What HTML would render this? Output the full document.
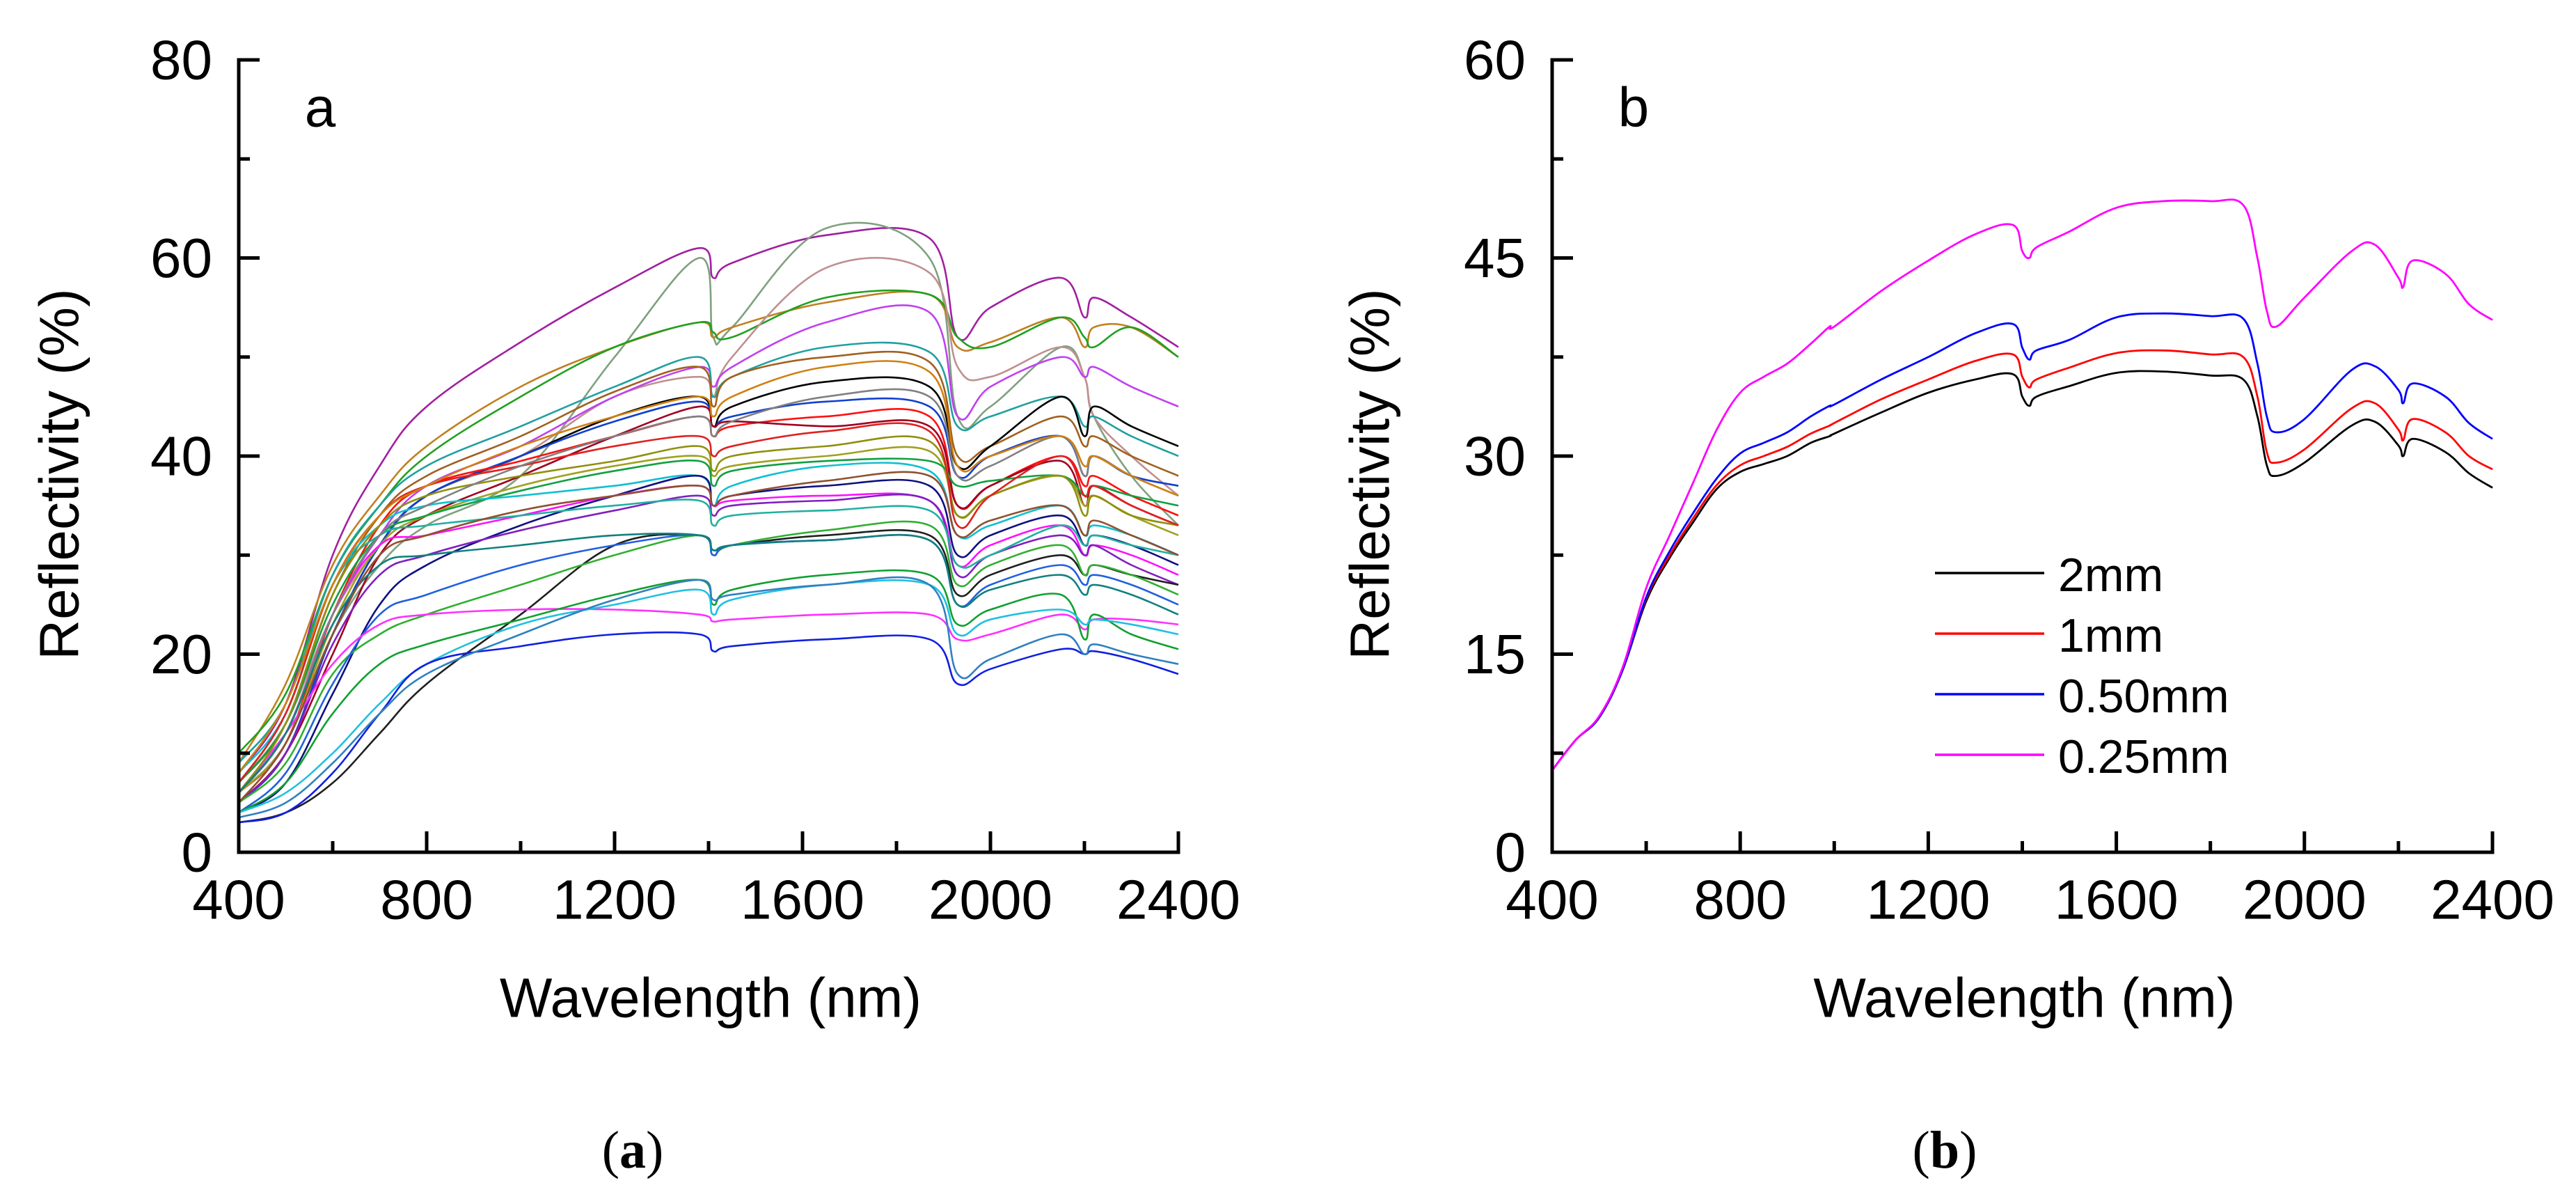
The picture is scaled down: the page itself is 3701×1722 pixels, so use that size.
<!DOCTYPE html>
<html><head><meta charset="utf-8"><style>
html,body{margin:0;padding:0;background:#fff;}
svg{display:block;font-family:"Liberation Sans",Arial,sans-serif;}
</style></head><body>
<svg id="fig" width="3701" height="1722" viewBox="0 0 3701 1722">
<rect width="3701" height="1722" fill="#fff"/>
<g id="pa"></g>
<g id="pb"></g>
</svg>
<script>
const NS="http://www.w3.org/2000/svg";
// ---- panel a data ----
const wlA=[400,500,600,700,800,1000,1200,1380,1410,1450,1650,1870,1930,2000,2150,2200,2220,2300,2400];
const seriesA=[
[8,15,30,39,45,51.5,57,61,58,59.5,62.3,62,52,55,58,54,56,54,51],
[6,11,22,29,33,38,50,60,52,53,63,60,44,45,51,48,44,38,33],
[9,17,29,36,41,47,51,53.5,52,53,55.5,56.3,51,51.5,54,51,53,53,50],
[10,16,28,35,40,46,51,53.5,52.5,52,56,56.3,52,51,54,52,51,53,50],
[7,13,24,31,36,40,46,48,46,50,59,58.5,49,48,51,48,44,40,36],
[6,12,24,32,37,41,46,49,47,49,53.5,54.5,44,47,50,48,49,47,45],
[9,15,28,35,39,43,47,50,46,48,51,50.5,43,44,46,43,44,42,40],
[7,13,26,34,38,42,46.5,49,45,48,50,49.5,40,41,44,41,42,40,38],
[5,10,22,31,36,40,44,46,43,45,47.5,47,39,41,46,42,45,43,41],
[5,10,22,31,36,40,43.5,45.5,43,44,45.5,45,38,40,42,38,40,38,37],
[6,11,24,33,37,39.5,42,44,42,43,44,44,35,37,40,37,38,36,34],
[5,10,20,30,34,38,42,45,43,43.5,43,43,35,37,39.5,35,37,35,33],
[6,11,23,31,34,37,39,40,38,39,40,40.5,34,36,38,35,36,34,32],
[7,13,25,32,34,36.5,38.5,39.5,37,38.5,39.5,39.5,37,37.5,38,36,37,36,35],
[8,14,27,33,35,36,37,38,35,37,39,38.5,32,33,35,32,33,32,30],
[4,7,16,25,29,33,36,38,35,36,37,37,30,32,34,31,32,31,29],
[6,12,24,31,32,34,36,37,35,35.5,36,35.5,29,31,33,30,31,30,28],
[5,10,21,28,30,32.5,34.5,36,34,35,35.5,35.5,28,30,32,30,31,29,27],
[7,14,27,32,33,34,35,35.5,33,34,34.5,34.5,29,30,33,31,32,31,30],
[3,4,7,12,17,24,31,32,30.5,31,32,32,26,28,30,28,29,28,27],
[5,9,18,22,24,27,30,32,30,31,32.5,33,27,29,31,28,29,28,26],
[4,8,17,24,26,29,31,32,30,31,31.5,31.5,25,27,29,27,28,27,25],
[6,12,19,23,24,24.5,24.5,24,23.3,23.5,24,24,21.5,22,24,22.5,23.5,23.5,23],
[4,7,14,19,21,23.5,26,27.5,25,26.5,28,28,23,24.5,26,21.5,24,22,20.5],
[4,6,10,15,19,23,25,26.5,24,25.5,27,27,22,23.5,24.5,23,23.5,23,22],
[3,4,8,14,19,20.8,22,22,20.3,20.8,21.5,21.5,17,18.5,20.5,20,20.3,19.5,18],
[3.5,5,9,14,18,22,25.5,27.5,25.5,26,27,27,18,19.5,22,20,21,20,19],
[6,13,26,33,36,38,39.5,41,38.5,40,41,41.5,34,36,38,34,36,34,33],
[7,14,27,34,37,39,41,42,40,41,42.5,42.5,33,36,40,36,37,35,33],
[6,12,24,32,35,39,42,44,42,43.5,46,46,38,39,42,38,40,38,36],
[8,15,27,34,37,41,44,46,44,46,49,48.5,39,40,42,39,40,38,36],
[6,12,23,29,30,31,32,32,30.5,31,31.5,31.5,25,26.5,28,26,27,26,24],
[5,11,22,30,32,34.5,36,37,35,36,37.5,38,32,33.5,35,32,33.5,32,30]
];
const colorsA=["#a020a0","#7fa07f","#c08020","#20a020","#c09090","#c040f0","#20a0a0","#a06020","#000000","#1040d0","#ff1010","#a00020","#a0a020","#10a040","#10c0d0","#101080","#ff10ff","#8020c0","#20b0a0","#202020","#30b030","#2060e0","#ff30ff","#10a030","#20c0e0","#1020e0","#3080c0","#909010","#e02020","#808080","#d08010","#108080","#905030"];
const xTicksA=[400,800,1200,1600,2000,2400];
const yTicksA=[0,20,40,60,80];
// ---- panel b data ----
const wlB=[400,450,500,550,600,650,700,750,800,850,900,950,990,1000,1100,1200,1300,1380,1400,1415,1430,1500,1600,1700,1800,1870,1900,1920,1940,2000,2100,2150,2200,2210,2230,2300,2350,2400];
const s2mm=[6.2,8.5,10.2,13.8,19,22.3,25,27.5,28.8,29.4,30,31,31.5,31.7,33.3,34.8,35.8,36.2,34.5,33.8,34.5,35.3,36.3,36.4,36.1,35.8,33,29.3,28.5,29.5,32.3,32.6,30.8,30,31.3,30.3,28.7,27.6];
const s1mm=[6.2,8.5,10.2,13.8,19.2,22.5,25.3,27.8,29.3,30,30.7,31.7,32.3,32.5,34.3,35.8,37.2,37.7,36,35.2,35.8,36.7,37.8,38,37.7,37.5,34.5,30.3,29.5,30.5,33.6,34,32,31.2,32.8,31.8,30,29];
const s050=[6.2,8.5,10.2,13.8,19.3,22.8,25.7,28.3,30.2,31,31.8,33,33.8,33.9,35.8,37.5,39.3,40,38.2,37.3,38,38.8,40.5,40.8,40.6,40.4,37,33,31.8,32.8,36.5,36.8,35,34,35.5,34.5,32.5,31.3];
const s025=[6.2,8.5,10.3,14,20,24,28,32,34.8,36,37,38.5,39.8,39.8,42.5,44.8,46.8,47.5,45.5,45,45.8,47,48.8,49.3,49.3,49,45,41,39.8,42,45.5,46,43.5,42.8,44.8,43.8,41.5,40.3];
const namesB=["2mm","1mm","0.50mm","0.25mm"];
const colorsB=["#000000","#ff0000","#0000ff","#ff00ff"];
const xTicksB=[400,800,1200,1600,2000,2400];
const yTicksB=[0,15,30,45,60];

function mk(tag,attrs,parent,text){const e=document.createElementNS(NS,tag);for(const k in attrs)e.setAttribute(k,attrs[k]);if(text!==undefined)e.textContent=text;parent.appendChild(e);return e;}

function smooth(pts){
  let d="M"+pts[0][0].toFixed(1)+","+pts[0][1].toFixed(1);
  const t=0.18;
  for(let i=0;i<pts.length-1;i++){
    const p0=pts[i-1]||pts[i],p1=pts[i],p2=pts[i+1],p3=pts[i+2]||p2;
    const c1x=p1[0]+(p2[0]-p0[0])*t,c1y=p1[1]+(p2[1]-p0[1])*t;
    const c2x=p2[0]-(p3[0]-p1[0])*t,c2y=p2[1]-(p3[1]-p1[1])*t;
    d+=`C${c1x.toFixed(1)},${c1y.toFixed(1)} ${c2x.toFixed(1)},${c2y.toFixed(1)} ${p2[0].toFixed(1)},${p2[1].toFixed(1)}`;
  }
  return d;
}

function panel(g,o){
  const X=v=>o.x0+(v-400)/2000*(o.x1-o.x0);
  const Y=v=>o.yb-(v/o.ymax)*(o.yb-o.yt);
  const lines=mk("g",{},g);
  
  
  o.series.forEach((s,i)=>{
    const pts=s.map((v,j)=>[X(o.wl[j]),Y(v)]);
    const p=mk("path",{d:smooth(pts),fill:"none",stroke:o.colors[i%o.colors.length],"stroke-width":o.sw,"stroke-linejoin":"round"},lines);
    
    
  });
  const ax=mk("g",{stroke:"#000","stroke-width":5,fill:"none"},g);
  
  
  mk("path",{d:`M${o.x0},${o.yt}V${o.yb}H${o.x1}`,"stroke-linecap":"square"},ax);
  for(let w=400;w<=2400;w+=200){const maj=o.xTicks.includes(w);const x=X(w);
    const t=mk("line",{x1:x,x2:x,y1:o.yb,y2:o.yb-(maj?30:16)},ax);
    
    }
  const yt=o.yTicks;const step=yt[1]-yt[0];
  for(let v=0;v<=o.ymax+1e-6;v+=step/2){const maj=yt.some(q=>Math.abs(q-v)<1e-6);const y=Y(v);
    const t=mk("line",{x1:o.x0,x2:o.x0+(maj?30:16),y1:y,y2:y},ax);
    
    }
  o.xTicks.forEach(w=>{const t=mk("text",{x:X(w),y:1292,"font-size":80,"text-anchor":"middle","dominant-baseline":"central"},g,String(w));
    
    });
  yt.forEach(v=>{const t=mk("text",{x:o.x0-38,y:Y(v),"font-size":80,"text-anchor":"end","dominant-baseline":"central"},g,String(v));
    
    });
  const xt=mk("text",{x:(o.x0+o.x1)/2+3,y:1433,"font-size":80,"text-anchor":"middle","dominant-baseline":"central"},g,"Wavelength (nm)");
  
  
  const ytl=mk("text",{x:0,y:0,"font-size":80,"text-anchor":"middle","dominant-baseline":"central",transform:`translate(${o.ytx},681) rotate(-90)`},g,"Reflectivity (%)");
  
  
  const lb=mk("text",{x:o.x0+117,y:154,"font-size":80,"text-anchor":"middle","dominant-baseline":"central"},g,o.label);
  
  
  const cap=mk("text",{x:o.capx,y:1652,"font-size":76,"text-anchor":"middle","dominant-baseline":"central","font-family":"Liberation Serif,serif"},g);
  
  
  mk("tspan",{},cap,"(");mk("tspan",{"font-weight":"bold"},cap,o.label);mk("tspan",{},cap,")");
  return {X,Y};
}
panel(document.getElementById("pa"),{x0:343,x1:1693,yt:86,yb:1224,ymax:80,wl:wlA,series:seriesA,colors:colorsA,sw:2.6,xTicks:xTicksA,yTicks:yTicksA,ytx:85,label:"a",capx:909});
panel(document.getElementById("pb"),{x0:2230,x1:3581,yt:86,yb:1224,ymax:60,wl:wlB,series:[s2mm,s1mm,s050,s025],names:namesB,colors:colorsB,sw:2.8,xTicks:xTicksB,yTicks:yTicksB,ytx:1968,label:"b",capx:2794});
const pb=document.getElementById("pb");
const leg=mk("g",{},pb);


namesB.forEach((n,i)=>{const y=823+i*87;
  const e=mk("g",{},leg);
  
  
  mk("line",{x1:2780,x2:2937,y1:y,y2:y,stroke:colorsB[i],"stroke-width":3.5},e);
  mk("text",{x:2957,y:y+3,"font-size":68,"dominant-baseline":"central"},e,n);});
</script>
</body></html>
